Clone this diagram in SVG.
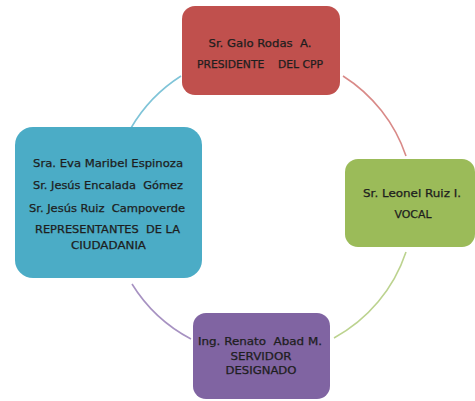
<svg xmlns="http://www.w3.org/2000/svg" width="475" height="401" viewBox="0 0 475 401">
<style>
.box{stroke:none}
.lbl{font-family:"DejaVu Sans","Liberation Sans",sans-serif;font-size:10px;fill:#1e1e1e;stroke:#1e1e1e;stroke-width:0.25;text-anchor:middle;white-space:pre}
.arc{fill:none;stroke-width:1.6}
</style>
<rect width="475" height="401" fill="#ffffff"/>
<g id="connectors">
<path class="arc" stroke="#7fc4d8" d="M131,128 A153,153 0 0 1 181,76"/>
<path class="arc" stroke="#d98a88" d="M343,76 A153,153 0 0 1 406,156"/>
<path class="arc" stroke="#bcd38f" d="M406,252 A153,153 0 0 1 334,338"/>
<path class="arc" stroke="#a792c2" d="M191,339 A153,153 0 0 1 132,284"/>
</g>
<g id="node-presidente">
<rect class="box" x="182" y="6" width="158" height="89" rx="13" fill="#c0504d"/>
<text class="lbl" x="260" y="46.5" textLength="103" lengthAdjust="spacingAndGlyphs">Sr. Galo Rodas  A.</text>
<text class="lbl" x="260" y="68" textLength="126" lengthAdjust="spacingAndGlyphs">PRESIDENTE    DEL CPP</text>
</g>
<g id="node-vocal">
<rect class="box" x="345" y="159" width="130" height="88" rx="13" fill="#9bbb59"/>
<text class="lbl" x="412" y="196.5" textLength="98" lengthAdjust="spacingAndGlyphs">Sr. Leonel Ruiz I.</text>
<text class="lbl" x="413" y="218" textLength="37" lengthAdjust="spacingAndGlyphs">VOCAL</text>
</g>
<g id="node-servidor">
<rect class="box" x="193" y="313" width="137" height="86" rx="13" fill="#8064a2"/>
<text class="lbl" x="260" y="345" textLength="124" lengthAdjust="spacingAndGlyphs">Ing. Renato  Abad M.</text>
<text class="lbl" x="261" y="360" textLength="61" lengthAdjust="spacingAndGlyphs">SERVIDOR</text>
<text class="lbl" x="261" y="374" textLength="71" lengthAdjust="spacingAndGlyphs">DESIGNADO</text>
</g>
<g id="node-ciudadania">
<rect class="box" x="15" y="127" width="187" height="151" rx="18" fill="#4bacc6"/>
<text class="lbl" x="108" y="166.5" textLength="150" lengthAdjust="spacingAndGlyphs">Sra. Eva Maribel Espinoza</text>
<text class="lbl" x="108" y="189" textLength="150" lengthAdjust="spacingAndGlyphs">Sr. Jesús Encalada  Gómez</text>
<text class="lbl" x="107" y="211.5" textLength="156" lengthAdjust="spacingAndGlyphs">Sr. Jesús Ruiz  Campoverde</text>
<text class="lbl" x="107.5" y="233" textLength="145" lengthAdjust="spacingAndGlyphs">REPRESENTANTES  DE LA</text>
<text class="lbl" x="108.5" y="249" textLength="75" lengthAdjust="spacingAndGlyphs">CIUDADANIA</text>
</g>
</svg>
